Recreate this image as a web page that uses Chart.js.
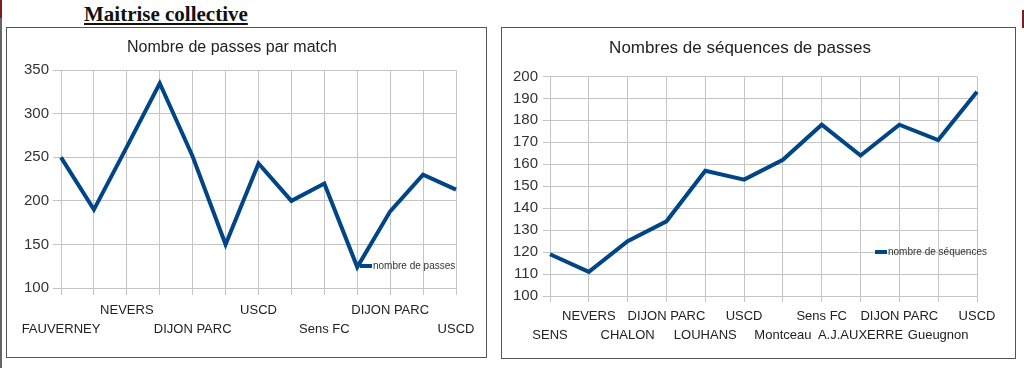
<!DOCTYPE html>
<html>
<head>
<meta charset="utf-8">
<script src="https://cdn.jsdelivr.net/npm/chart.js@4.4.1/dist/chart.umd.min.js"></script>
<style>
  body { margin: 0; background: #fff; width: 1024px; height: 368px; position: relative; overflow: hidden; font-family: 'Liberation Sans', Arial, sans-serif; }
  .abs { position: absolute; }
  .box { border: 1.5px solid #555; box-sizing: border-box; background: #fff; }
  .legend { font-size: 10px; color: #333; line-height: 12px; white-space: nowrap; }
  .legend span.sw { display: inline-block; width: 12px; height: 4px; background: #004586; vertical-align: middle; margin-right: 1px; }
</style>
</head>
<body>
<div class="abs" style="left:0;top:0;width:2px;height:18px;background:#7a1e1e"></div>
<div class="abs" style="left:0;top:18px;width:2px;height:350px;background:#666"></div>
<div class="abs" style="left:1022px;top:10px;width:2px;height:18px;background:#7a1e1e"></div>

<div class="abs" style="left:84px;top:4px;font:bold 21px 'Liberation Serif','Times New Roman',serif;line-height:21px;text-decoration:underline;color:#111">Maitrise collective</div>

<div class="abs box" style="left:6px;top:27px;width:481px;height:331px"></div>
<div class="abs box" style="left:501px;top:27px;width:515px;height:332px"></div>

<canvas id="c1" class="abs" style="left:8px;top:29px" width="477" height="327"></canvas>
<canvas id="c2" class="abs" style="left:503px;top:29px" width="511" height="328"></canvas>

<div class="abs legend" style="left:360px;top:260px"><span class="sw"></span>nombre de passes</div>
<div class="abs legend" style="left:875px;top:246px"><span class="sw"></span>nombre de séquences</div>

<script>
// match labels (left chart has one extra match at the start)
const seqLabels = ['SENS', 'NEVERS', 'CHALON', 'DIJON PARC', 'LOUHANS', 'USCD', 'Montceau', 'Sens FC', 'A.J.AUXERRE', 'DIJON PARC', 'Gueugnon', 'USCD'];
const passLabels = ['FAUVERNEY'].concat(seqLabels);

const passes = [250, 190, 262, 335, 251, 150, 243, 200, 220, 124, 188, 230, 213];
const sequences = [119, 111, 125, 134, 157, 153, 162, 178, 164, 178, 171, 193];

const passTicks = [100, 350, 50];
const seqTicks = [100, 200, 10];

const blue = '#004586';
const gridCol = '#c4c4c4';
const font = "'Liberation Sans', Arial, sans-serif";

function makeChart(id, labels, values, name, title, yt, o) {
  return new Chart(document.getElementById(id), {
    type: 'line',
    data: {
      labels: labels,
      datasets: [{
        label: name,
        data: values,
        borderColor: blue,
        backgroundColor: blue,
        borderWidth: 4,
        pointRadius: 0,
        tension: 0,
        fill: false
      }]
    },
    options: {
      responsive: false,
      devicePixelRatio: 1,
      animation: false,
      layout: { padding: { left: 0, right: o.right, top: 0, bottom: 0 } },
      plugins: {
        legend: { display: false },
        tooltip: { enabled: false },
        title: {
          display: true,
          text: title,
          color: '#222',
          font: { family: font, size: o.titleSize, weight: 'normal', lineHeight: 1.2 },
          padding: { top: o.titleTop, bottom: o.titleBottom }
        }
      },
      scales: {
        x: {
          offset: false,
          grid: { color: gridCol, tickLength: o.xTick, drawTicks: true },
          border: { color: gridCol },
          ticks: {
            autoSkip: false,
            maxRotation: 0,
            padding: o.xPad,
            color: '#222',
            font: { family: font, size: 13, lineHeight: 19 / 13 },
            callback: o.tick
          },
          afterFit: s => { s.height = o.xHeight; }
        },
        y: {
          min: yt[0],
          max: yt[1],
          grid: { color: gridCol, tickLength: o.yTick },
          border: { color: gridCol },
          ticks: {
            stepSize: yt[2],
            padding: o.yPad,
            color: '#333',
            font: { family: font, size: 15 }
          },
          afterFit: s => { s.width = o.yWidth; }
        }
      }
    }
  });
}

makeChart('c1', passLabels, passes, 'nombre de passes', 'Nombre de passes par match', passTicks, {
  right: 29, titleSize: 16, titleTop: 9, titleBottom: 13,
  xTick: 7, xPad: 6, xHeight: 68, yTick: 8, yPad: 4, yWidth: 53,
  tick: function (v, i) {
    const l = this.getLabelForValue(v);
    if (i % 2) return '';
    return i % 4 === 0 ? ['', l] : l;
  }
});

makeChart('c2', seqLabels, sequences, 'nombre de séquences', 'Nombres de séquences de passes', seqTicks, {
  right: 37, titleSize: 17, titleTop: 9, titleBottom: 18,
  xTick: 6, xPad: 5, xHeight: 61, yTick: 7, yPad: 5, yWidth: 47,
  tick: function (v, i) {
    const l = this.getLabelForValue(v);
    return i % 2 === 0 ? ['', l] : l;
  }
});
</script>
</body>
</html>
